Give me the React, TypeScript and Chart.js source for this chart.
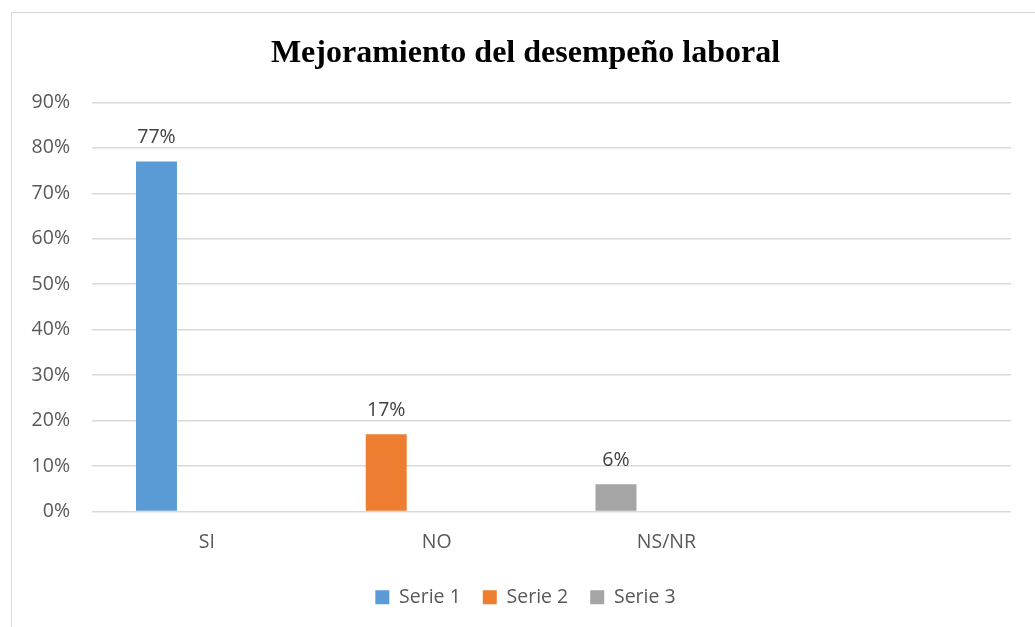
import React, { useEffect, useRef } from "react";
import { Chart, registerables } from "chart.js";

Chart.register(...registerables);

const categories = ["SI", "NO", "NS/NR", ""];
const serie1 = [77, null, null, null];
const serie2 = [null, 17, null, null];
const serie3 = [null, null, 6, null];
const seriesNames = ["Serie 1", "Serie 2", "Serie 3"];
const seriesColors = ["#5B9BD5", "#ED7D31", "#A5A5A5"];
const yTicks = [0, 10, 20, 30, 40, 50, 60, 70, 80, 90];
const title = "Mejoramiento del desempeño laboral";

const valueLabels = {
  id: "valueLabels",
  afterDatasetsDraw(chart: any) {
    const ctx = chart.ctx;
    ctx.save();
    ctx.font = "19.5px 'Open Sans', sans-serif";
    ctx.fillStyle = "#404040";
    ctx.textAlign = "center";
    ctx.textBaseline = "alphabetic";
    chart.data.datasets.forEach((ds: any, di: number) => {
      if (di > 2) return;
      const meta = chart.getDatasetMeta(di);
      meta.data.forEach((el: any, i: number) => {
        const v = ds.data[i];
        if (v === null || v === undefined) return;
        ctx.fillText(v + "%", el.x, el.y - 18);
      });
    });
    ctx.restore();
  },
};

// let the y tick labels extend left of the layout padding without being clipped
const yLabelArea = {
  id: "yLabelArea",
  afterLayout(chart: any) {
    if (chart.scales.y) chart.scales.y.left = 0;
  },
};

export default function App() {
  const ref = useRef<HTMLCanvasElement>(null);
  useEffect(() => {
    if (!ref.current) return;
    Chart.defaults.font.family = "'Open Sans', sans-serif";
    const chart = new Chart(ref.current, {
      type: "bar",
      data: {
        labels: categories,
        datasets: [
          { label: seriesNames[0], data: serie1, backgroundColor: seriesColors[0], stack: "a" },
          { label: seriesNames[1], data: serie2, backgroundColor: seriesColors[1], stack: "a" },
          { label: seriesNames[2], data: serie3, backgroundColor: seriesColors[2], stack: "a" },
          { label: "", data: [null, null, null, null], backgroundColor: "transparent", stack: "b" },
        ] as any,
      },
      options: {
        responsive: false,
        animation: false,
        datasets: { bar: { categoryPercentage: 0.8775, barPercentage: 0.4067 } } as any,
        layout: { padding: { left: 40, right: 24, top: 0, bottom: 10 } },
        plugins: {
          tooltip: { enabled: false },
          title: {
            display: true,
            text: title,
            color: "#000000",
            font: { family: "'Liberation Serif', 'Times New Roman', serif", size: 32, weight: "bold" },
            padding: { top: 35, bottom: 29 },
          },
          legend: {
            position: "bottom",
            labels: {
              boxWidth: 14,
              boxHeight: 14,
              color: "#595959",
              font: { size: 19.5 },
              padding: 22,
              filter: (item: any) => item.datasetIndex < 3,
            },
          },
        },
        scales: {
          x: {
            afterFit: (s: any) => {
              s.height = 54;
            },
            grid: { display: false },
            border: { display: false },
            ticks: { color: "#595959", font: { size: 19.5 }, padding: 11 },
          },
          y: {
            min: 0,
            max: 90,
            afterFit: (s: any) => {
              s.width = 52;
            },
            afterBuildTicks: (s: any) => {
              s.ticks = yTicks.map((v) => ({ value: v }));
            },
            grid: { color: "#D9D9D9", lineWidth: 1.5, drawTicks: false },
            border: { display: false },
            ticks: {
              color: "#595959",
              font: { size: 19.5 },
              padding: 22,
              callback: (v: any) => v + "%",
            },
          },
        },
      } as any,
      plugins: [valueLabels, yLabelArea],
    });
    return () => chart.destroy();
  }, []);
  return (
    <div style={{ position: "fixed", left: 0, top: 0, width: 1035, height: 627, overflow: "hidden", background: "#fff" }}>
      <div
        style={{
          position: "absolute",
          left: 11,
          top: 12,
          width: 1100,
          height: 700,
          border: "1px solid #D9D9D9",
        }}
      />
      <canvas ref={ref} width={1035} height={627} style={{ position: "absolute", left: 0, top: 0 }} />
    </div>
  );
}
